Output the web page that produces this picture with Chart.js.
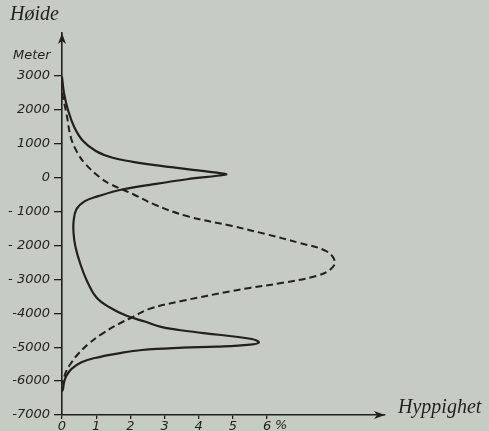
<!DOCTYPE html>
<html>
<head>
<meta charset="utf-8">
<script src="https://cdn.jsdelivr.net/npm/chart.js@4/dist/chart.umd.min.js"></script>
<style>
  html, body { margin: 0; padding: 0; background: #c6ccc3; }
  canvas { display: block; }
</style>
</head>
<body>
<canvas id="c" width="489" height="431"></canvas>
<script>
// Y axis (height, metres) ticks
const yTickValues = [-7000, -6000, -5000, -4000, -3000, -2000, -1000, 0, 1000, 2000, 3000];
const yTickLabels = ["-7000", "-6000", "-5000", "-4000", "- 3000", "- 2000", "- 1000", "0", "1000", "2000", "3000"];
// X axis (frequency, %) ticks
const xTickValues = [0, 1, 2, 3, 4, 5, 6];
const xTickLabels = ["0", "1", "2", "3", "4", "5", "6"];

// Solid curve: actual distribution of the earth's surface by height
const solidHeights = [2980, 2490, 1985, 1490, 1090, 790, 590, 470, 400, 254, 130, 95, -45, -190, -347, -544, -691, -935, -1280, -1662, -2065, -2553, -3044, -3535, -3830, -4074, -4250, -4400, -4515, -4632, -4759, -4860, -4925, -4985, -5015, -5082, -5182, -5318, -5447, -5641, -5838, -6035, -6230, -6300];
const solidFreq    = [0, 0.06, 0.18, 0.36, 0.61, 0.99, 1.48, 2.07, 2.5, 3.66, 4.66, 4.8, 3.66, 2.69, 1.76, 1.06, 0.67, 0.42, 0.34, 0.34, 0.4, 0.54, 0.73, 1.01, 1.4, 1.89, 2.45, 2.9, 3.58, 4.58, 5.55, 5.76, 5.5, 4.53, 3.53, 2.34, 1.65, 0.96, 0.57, 0.28, 0.13, 0.06, 0.03, 0];

// Dashed curve: normal (random) distribution
const dashedHeights = [2500, 1895, 1190, 740, 400, 0, -190, -494, -780, -1130, -1425, -1660, -1925, -2160, -2455, -2690, -2900, -3100, -3250, -3340, -3630, -3870, -4124, -4318, -4612, -4906, -5200, -5447, -5691, -5888, -6100];
const dashedFreq    = [0, 0.13, 0.26, 0.45, 0.69, 1.12, 1.42, 2.1, 2.68, 3.65, 4.98, 5.95, 6.95, 7.72, 7.98, 7.87, 7.43, 6.46, 5.49, 4.99, 3.53, 2.56, 2.04, 1.65, 1.16, 0.77, 0.47, 0.28, 0.13, 0.06, 0];

const INK = '#231f1c';
const BG = '#c6ccc3';

const toPoints = (xs, ys) => xs.map((x, i) => ({ x: x, y: ys[i] }));

const decor = {
  id: 'decor',
  beforeDraw(chart) {
    const ctx = chart.ctx;
    ctx.save();
    ctx.fillStyle = BG;
    ctx.fillRect(0, 0, chart.width, chart.height);
    ctx.restore();
  },
  afterDraw(chart) {
    const ctx = chart.ctx;
    const a = chart.chartArea;
    const xs = chart.scales.x;
    ctx.save();
    ctx.fillStyle = INK;
    ctx.strokeStyle = INK;
    // y-axis arrowhead
    ctx.beginPath();
    ctx.moveTo(a.left, a.top);
    ctx.lineTo(a.left - 4, a.top + 11);
    ctx.lineTo(a.left, a.top + 8);
    ctx.lineTo(a.left + 4, a.top + 11);
    ctx.closePath();
    ctx.fill();
    // x-axis arrowhead
    ctx.beginPath();
    ctx.moveTo(a.right, a.bottom);
    ctx.lineTo(a.right - 11, a.bottom - 4);
    ctx.lineTo(a.right - 8, a.bottom);
    ctx.lineTo(a.right - 11, a.bottom + 4);
    ctx.closePath();
    ctx.fill();
    // texts
    ctx.textBaseline = 'alphabetic';
    ctx.textAlign = 'left';
    ctx.font = 'italic 20px "Liberation Serif"';
    ctx.fillText('Høide', 10, 20);
    ctx.fillText('Hyppighet', a.right + 13, a.bottom - 2);
    ctx.font = 'italic 13px "DejaVu Sans"';
    ctx.fillText('Meter', 13, 59);
    ctx.textBaseline = 'top';
    ctx.fillText('%', xs.getPixelForValue(6) + 8, a.bottom + 4);
    ctx.restore();
  }
};

new Chart(document.getElementById('c'), {
  type: 'scatter',
  data: {
    datasets: [
      {
        data: toPoints(solidFreq, solidHeights),
        showLine: true,
        borderColor: INK,
        borderWidth: 2.2,
        tension: 0.4,
        pointRadius: 0,
        fill: false
      },
      {
        data: toPoints(dashedFreq, dashedHeights),
        showLine: true,
        borderColor: INK,
        borderWidth: 2,
        borderDash: [7, 4],
        tension: 0.4,
        pointRadius: 0,
        fill: false
      }
    ]
  },
  options: {
    responsive: false,
    devicePixelRatio: 1,
    animation: false,
    layout: { padding: { top: 33, right: 104, left: 0, bottom: 0 } },
    plugins: { legend: { display: false }, tooltip: { enabled: false } },
    scales: {
      x: {
        type: 'linear',
        position: 'bottom',
        min: 0,
        max: 9.45,
        afterBuildTicks: s => { s.ticks = xTickValues.map(v => ({ value: v })); },
        afterFit: s => { s.height = 16; },
        ticks: {
          callback: (v, i) => xTickLabels[i],
          font: { family: 'DejaVu Sans', size: 13, style: 'italic' },
          color: INK,
          padding: 0,
          maxRotation: 0,
          autoSkip: false
        },
        grid: { drawOnChartArea: false, drawTicks: true, tickLength: 4, color: INK, lineWidth: 1.3 },
        border: { display: true, color: INK, width: 1.6 }
      },
      y: {
        type: 'linear',
        position: 'left',
        min: -7000,
        max: 4270,
        afterBuildTicks: s => { s.ticks = yTickValues.map(v => ({ value: v })); },
        afterFit: s => { s.width = 62; },
        ticks: {
          callback: (v, i) => yTickLabels[i],
          font: { family: 'DejaVu Sans', size: 13, style: 'italic' },
          color: INK,
          padding: 4,
          autoSkip: false
        },
        grid: { drawOnChartArea: false, drawTicks: true, tickLength: 8, color: INK, lineWidth: 1.3 },
        border: { display: true, color: INK, width: 1.6 }
      }
    }
  },
  plugins: [decor]
});
</script>
</body>
</html>
